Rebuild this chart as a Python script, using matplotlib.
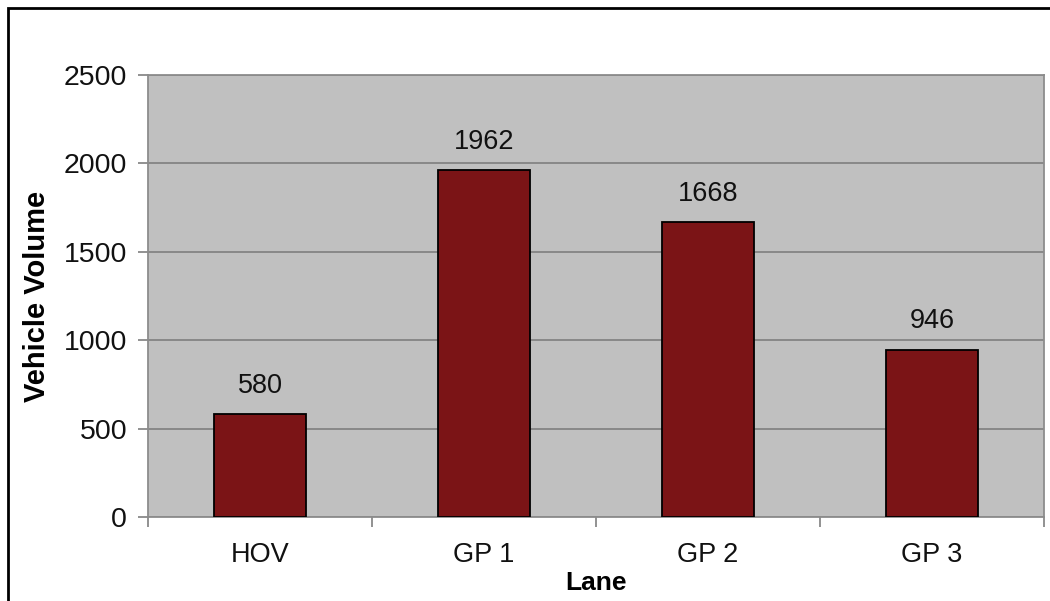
import matplotlib.pyplot as plt
from matplotlib.patches import Rectangle
import numpy as np

plt.rcParams['font.family'] = ['Liberation Sans', 'DejaVu Sans']

# Data
lanes = ['HOV', 'GP 1', 'GP 2', 'GP 3']
volumes = [580, 1962, 1668, 946]
y_ticks = [0, 500, 1000, 1500, 2000, 2500]

fig = plt.figure(figsize=(10.5, 6.01), dpi=100)
ax = fig.add_axes([148 / 1050, 1 - 517 / 601, (1044 - 148) / 1050, (517 - 75) / 601])

x = np.arange(len(lanes))
ax.set_facecolor('#c0c0c0')
ax.bar(x, volumes, width=0.41, color='#7b1416', edgecolor='black', linewidth=1.3, zorder=3)

for xi, v in zip(x, volumes):
    ax.annotate(str(v), (xi, v), xytext=(0, 11), textcoords='offset points',
                ha='center', va='bottom', fontsize=19.5, color='#111111')

ax.set_xlim(-0.5, len(lanes) - 0.5)
ax.set_ylim(0, 2500)
ax.set_yticks(y_ticks)
ax.yaxis.grid(True, color='#7f7f7f', linewidth=1.2, zorder=0)
ax.set_axisbelow(True)

# boundary ticks below the axis, labels at the centres
ax.set_xticks(np.arange(-0.5, len(lanes)))
ax.set_xticklabels([])
ax.set_xticks(x, minor=True)
ax.set_xticklabels(lanes, minor=True)
ax.tick_params(axis='x', which='major', length=7, color='#7f7f7f', width=1.2)
ax.tick_params(axis='x', which='minor', length=0, pad=18, labelsize=19.5, labelcolor='#111111')
ax.tick_params(axis='y', length=7, color='#7f7f7f', width=1.2, pad=8, labelsize=20.5, labelcolor='#111111')

for s in ax.spines.values():
    s.set_color('#8c8c8c')
    s.set_linewidth(1.3)

ax.set_ylabel('Vehicle Volume', fontsize=21, fontweight='bold', labelpad=9)
ax.set_xlabel('Lane', fontsize=19, fontweight='bold', labelpad=2)

# outer chart frame (cut off at right and bottom)
fig.patches.append(Rectangle((8 / 1050, -0.1), 1.2, 1 - 8 / 601 + 0.1,
                             transform=fig.transFigure, fill=False,
                             edgecolor='black', linewidth=2, clip_on=False))

fig.savefig('out.png', dpi=100)
